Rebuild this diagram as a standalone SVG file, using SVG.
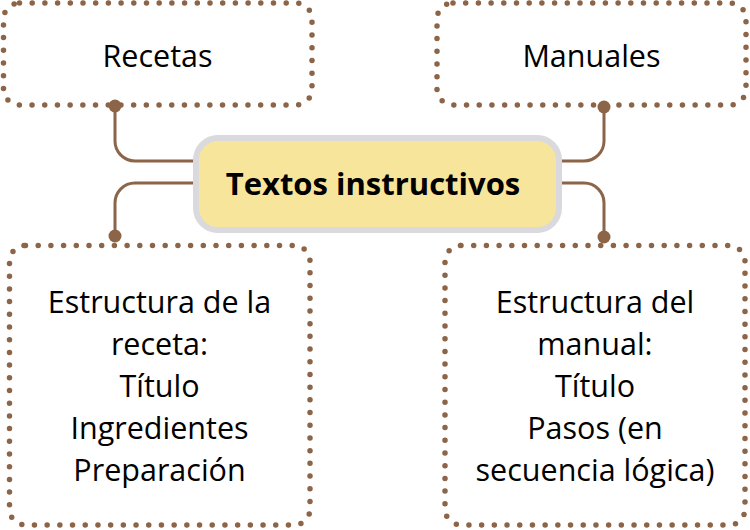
<svg xmlns="http://www.w3.org/2000/svg" width="750" height="530" viewBox="0 0 750 530">
<style>
.box{fill:#fff;stroke:#8c6548;stroke-width:5.5;stroke-linecap:round;stroke-dasharray:0 12.7}
.lbl{font-family:"Open Sans","Liberation Sans",sans-serif;font-size:30.5px;fill:#000;text-anchor:middle}
.conn{fill:none;stroke:#8c6548;stroke-width:3}
.dot{fill:#8c6548}
</style>
<rect width="750" height="530" fill="#fff"/>
<g id="connectors">
<path class="conn" d="M200,161 H135 A20,20 0 0 1 115,141 V106"/>
<path class="conn" d="M200,183 H135 A20,20 0 0 0 115,203 V236"/>
<path class="conn" d="M555,161 H584 A20,20 0 0 0 604,141 V107"/>
<path class="conn" d="M555,183 H584 A20,20 0 0 1 604,203 V237"/>
</g>
<g id="recetas">
<rect class="box" x="3.5" y="3" width="308.5" height="102" rx="16"/>
<text class="lbl" x="157.5" y="67">Recetas</text>
</g>
<g id="manuales">
<rect class="box" x="437" y="3" width="309" height="102" rx="16"/>
<text class="lbl" x="591.5" y="67">Manuales</text>
</g>
<g id="estructura-receta">
<rect class="box" x="9.5" y="245.5" width="300.5" height="279.5" rx="16"/>
<text class="lbl" x="159.5" y="313">Estructura de la</text>
<text class="lbl" x="159.5" y="355">receta:</text>
<text class="lbl" x="159.5" y="397">Título</text>
<text class="lbl" x="159.5" y="439">Ingredientes</text>
<text class="lbl" x="159.5" y="481">Preparación</text>
</g>
<g id="estructura-manual">
<rect class="box" x="445" y="245.5" width="300" height="279.5" rx="16"/>
<text class="lbl" x="595" y="313">Estructura del</text>
<text class="lbl" x="595" y="355">manual:</text>
<text class="lbl" x="595" y="397">Título</text>
<text class="lbl" x="595" y="439">Pasos (en</text>
<text class="lbl" x="595" y="481">secuencia lógica)</text>
</g>
<g id="dots">
<circle class="dot" cx="115" cy="106" r="6.5"/>
<circle class="dot" cx="115" cy="236" r="6.5"/>
<circle class="dot" cx="604" cy="107" r="6.5"/>
<circle class="dot" cx="604" cy="237" r="6.5"/>
</g>
<g id="textos-instructivos">
<rect x="196" y="138" width="363" height="92" rx="22" fill="#f7e59c" stroke="#d9d9de" stroke-width="6"/>
<text x="373" y="195" font-family="'Open Sans','Liberation Sans',sans-serif" font-weight="bold" font-size="31" text-anchor="middle" fill="#000">Textos instructivos</text>
</g>
</svg>
